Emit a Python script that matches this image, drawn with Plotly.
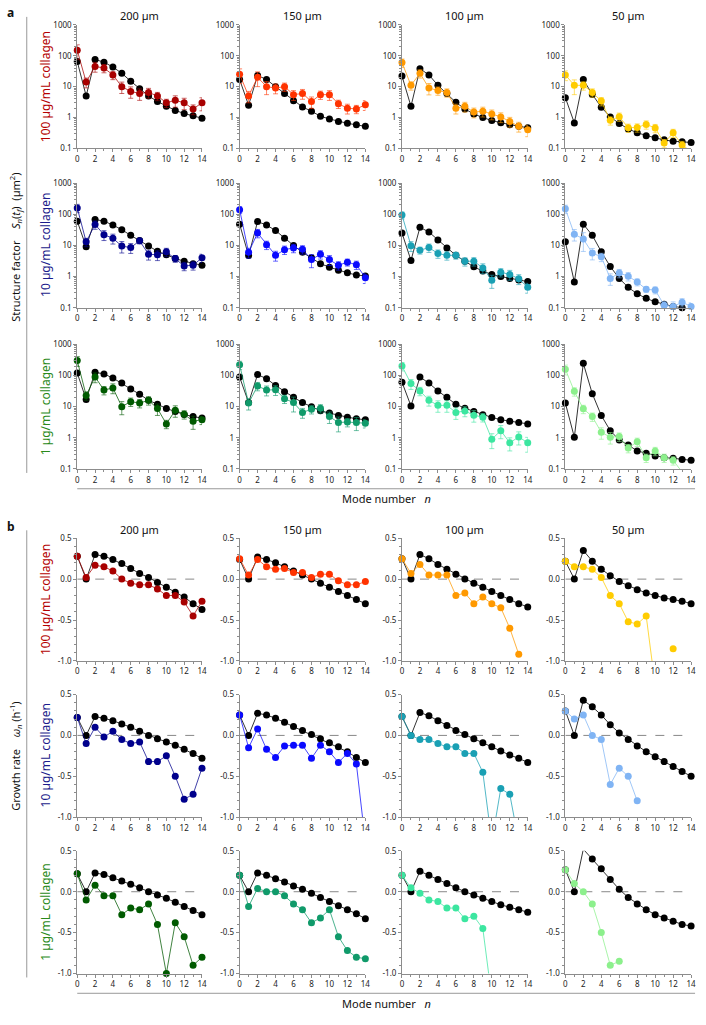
import plotly.graph_objects as go

W, H = 706, 1025
FONT = "Noto Sans"

MODES = list(range(15))
SIZES = ["200 µm", "150 µm", "100 µm", "50 µm"]
CONCS = ["100 µg/mL collagen", "10 µg/mL collagen", "1 µg/mL collagen"]
CONC_COLORS = ["#b40000", "#1c1c8c", "#2a8a1a"]
SERIES_COLORS = [
    ["#a80000", "#ff3300", "#ff9900", "#ffcc00"],
    ["#00008c", "#0a0aff", "#1aa0b4", "#80b4f4"],
    ["#005a00", "#109a6a", "#3ce6a0", "#8cf08c"],
]

# ---- panel a: structure factor S_n(t_f), per concentration, 4 sizes each ----
SF_MODEL_100 = [
    [65, 5, 75, 62, 43, 27, 15, 8.5, 5, 3.3, 2.3, 1.7, 1.35, 1.15, 0.95],
    [17, 2.5, 23, 17, 10, 6, 3.5, 2.2, 1.6, 1.1, 0.9, 0.75, 0.65, 0.58, 0.52],
    [22, 2.3, 38, 24, 11, 6, 3.1, 1.9, 1.3, 1.0, 0.8, 0.68, 0.58, 0.52, 0.47],
    [4.4, 0.67, 17, 5.6, 2.15, 1.05, 0.64, 0.43, 0.32, 0.26, 0.22, 0.19, 0.17, 0.165, 0.155],
]
SF_EXP_100 = [
    [150, 14, 45, 40, 24, 10, 7, 6, 6.5, 5, 3, 3.6, 3, 1.9, 3],
    [25, 5, 20, 10, 9, 10, 5.5, 6, 3.3, 5.5, 5.5, 2.8, 2, 1.9, 2.6],
    [60, 11, 27, 9, 7.5, 6.5, 2, 2.3, 1.5, 1.6, 1.3, 1.05, 0.75, 0.52, 0.4],
    [24, 11, 11, 6.5, 3.4, 0.81, 1.07, 0.47, 0.48, 0.6, 0.46, 0.15, 0.32, 0.13, 0.08],
]
SF_ERR_100 = [
    [0.5, 0.35, 0.35, 0.3, 0.3, 0.4, 0.4, 0.4, 0.35, 0.3, 0.3, 0.4, 0.4, 0.35, 0.45],
    [0.5, 0.4, 0.5, 0.45, 0.35, 0.3, 0.35, 0.35, 0.4, 0.3, 0.35, 0.3, 0.35, 0.3, 0.35],
    [0.3, 0.3, 0.3, 0.4, 0.3, 0.3, 0.35, 0.35, 0.35, 0.35, 0.35, 0.35, 0.35, 0.35, 0.4],
    [0.35, 0.5, 0.3, 0.3, 0.3, 0.3, 0.3, 0.3, 0.3, 0.3, 0.3, 0.3, 0.3, 0.3, 0.0],
]
SF_MODEL_10 = [
    [60, 9, 68, 60, 45, 32, 21, 14.5, 9.5, 6.5, 5, 3.8, 3.1, 2.6, 2.3],
    [48, 4.7, 58, 45, 30, 17, 10, 6, 4, 2.6, 2, 1.6, 1.32, 1.12, 1.05],
    [25, 3.3, 38, 27, 15, 8.2, 4.8, 3.1, 2.05, 1.5, 1.17, 1.0, 0.87, 0.78, 0.69],
    [13, 0.67, 48, 21, 6.3, 2.1, 0.87, 0.45, 0.28, 0.2, 0.155, 0.13, 0.11, 0.1, 0.09],
]
SF_EXP_10 = [
    [160, 13, 47, 22, 17, 9.5, 8.5, 14, 5.2, 5, 6.2, 3.8, 2.2, 2.3, 4],
    [140, 6, 25, 10.5, 4.8, 7.3, 8.3, 7.5, 3.5, 5.2, 3.5, 2.3, 2.9, 2.4, 0.92],
    [94, 9.8, 7, 8.5, 5.5, 4.8, 4.8, 3.1, 3.1, 1.9, 0.76, 1.38, 1.17, 0.85, 0.45],
    [150, 23, 16, 5.7, 4.3, 0.87, 1.3, 1.03, 0.67, 0.39, 0.37, 0.12, 0.11, 0.15, 0.11],
]
SF_ERR_10 = [
    [0.3, 0.3, 0.3, 0.35, 0.35, 0.4, 0.35, 0.2, 0.35, 0.35, 0.3, 0.25, 0.3, 0.3, 0.3],
    [0.25, 0.35, 0.3, 0.3, 0.35, 0.3, 0.3, 0.3, 0.45, 0.3, 0.35, 0.3, 0.25, 0.3, 0.35],
    [0.25, 0.35, 0.25, 0.3, 0.3, 0.3, 0.25, 0.3, 0.3, 0.35, 0.45, 0.3, 0.35, 0.35, 0.35],
    [0.3, 0.4, 0.6, 0.4, 0.3, 0.4, 0.3, 0.3, 0.25, 0.2, 0.25, 0.3, 0.4, 0.3, 0.3],
]
SF_MODEL_1 = [
    [120, 17, 127, 112, 83, 57, 37, 25, 16, 12, 8.7, 7, 5.6, 4.8, 4.3],
    [89, 13.5, 107, 79, 48, 30, 20, 13.5, 10, 7.4, 6.2, 5.2, 4.6, 4.1, 3.8],
    [61, 10.5, 89, 57, 32, 20, 12, 8.9, 7, 5.5, 4.5, 3.8, 3.4, 3.1, 2.8],
    [13, 1.05, 245, 26, 5.2, 1.7, 0.85, 0.59, 0.38, 0.32, 0.26, 0.23, 0.22, 0.2, 0.19],
]
SF_EXP_1 = [
    [300, 23, 90, 34, 40, 10, 14.5, 13, 16, 8.7, 2.8, 7.6, 5.7, 3.4, 3.8],
    [220, 13, 46, 34, 35, 18, 13.5, 6.5, 8.3, 8.9, 4.8, 3.1, 3.2, 3.1, 2.95],
    [200, 55, 32, 16, 11, 11, 6.5, 7.3, 5.3, 4.6, 0.9, 1.7, 0.69, 1.07, 0.69],
    [160, 31, 8.5, 4.8, 1.5, 1.05, 1.1, 0.47, 0.75, 0.23, 0.38, 0.23, 0.19, 0.08, None],
]
SF_ERR_1 = [
    [0.35, 0.3, 0.35, 0.3, 0.35, 0.45, 0.3, 0.3, 0.3, 0.4, 0.3, 0.4, 0.3, 0.45, 0.3],
    [0.3, 0.4, 0.3, 0.35, 0.35, 0.3, 0.5, 0.35, 0.3, 0.3, 0.4, 0.5, 0.3, 0.45, 0.3],
    [0.3, 0.35, 0.3, 0.35, 0.4, 0.4, 0.4, 0.35, 0.4, 0.3, 0.5, 0.45, 0.45, 0.45, 0.5],
    [0.35, 0.3, 0.3, 0.3, 0.4, 0.4, 0.3, 0.3, 0.3, 0.3, 0.3, 0.3, 0.3, 0.3, 0.0],
]

# ---- panel b: growth rate omega_n (1/h) ----
GR_MODEL_100 = [
    [0.28, 0.0, 0.3, 0.28, 0.24, 0.19, 0.13, 0.07, 0.02, -0.04, -0.1, -0.16, -0.22, -0.3, -0.37],
    [0.24, 0.0, 0.27, 0.24, 0.2, 0.15, 0.1, 0.05, 0.0, -0.05, -0.1, -0.15, -0.2, -0.25, -0.3],
    [0.25, 0.0, 0.3, 0.25, 0.18, 0.12, 0.06, 0.0, -0.05, -0.1, -0.15, -0.2, -0.25, -0.3, -0.34],
    [0.22, 0.0, 0.35, 0.22, 0.12, 0.04, -0.03, -0.08, -0.13, -0.17, -0.2, -0.23, -0.25, -0.27, -0.3],
]
GR_EXP_100 = [
    [0.28, 0.02, 0.17, 0.15, 0.1, 0.0, -0.05, -0.07, -0.07, -0.12, -0.2, -0.2, -0.28, -0.45, -0.27],
    [0.25, 0.05, 0.24, 0.15, 0.12, 0.13, 0.08, 0.08, 0.02, 0.06, 0.06, -0.02, -0.07, -0.07, -0.03],
    [0.25, 0.07, 0.18, 0.05, 0.05, 0.05, -0.2, -0.17, -0.3, -0.22, -0.3, -0.35, -0.6, -0.92, None],
    [0.22, 0.15, 0.15, 0.12, 0.02, -0.2, -0.3, -0.52, -0.55, -0.45, -1.3, None, -0.85, None, None],
]
GR_MODEL_10 = [
    [0.22, 0.0, 0.23, 0.21, 0.18, 0.14, 0.1, 0.05, 0.0, -0.04, -0.08, -0.12, -0.17, -0.22, -0.28],
    [0.25, 0.0, 0.27, 0.25, 0.21, 0.16, 0.11, 0.06, 0.01, -0.04, -0.09, -0.14, -0.2, -0.27, -0.33],
    [0.23, 0.0, 0.28, 0.24, 0.18, 0.12, 0.06, 0.01, -0.04, -0.09, -0.14, -0.19, -0.24, -0.28, -0.33],
    [0.3, 0.0, 0.43, 0.35, 0.25, 0.13, 0.03, -0.05, -0.13, -0.2, -0.26, -0.32, -0.38, -0.44, -0.5],
]
GR_EXP_10 = [
    [0.22, -0.1, 0.1, -0.02, 0.05, -0.05, -0.1, -0.08, -0.32, -0.32, -0.25, -0.5, -0.78, -0.72, -0.4],
    [0.25, -0.15, 0.08, -0.17, -0.27, -0.13, -0.12, -0.12, -0.28, -0.12, -0.2, -0.33, -0.22, -0.35, -1.3],
    [0.23, 0.0, -0.05, -0.05, -0.1, -0.14, -0.14, -0.22, -0.22, -0.45, -1.3, -0.65, -0.72, -1.3, None],
    [0.3, 0.2, 0.25, 0.0, -0.05, -0.6, -0.4, -0.5, -0.8, None, None, None, None, None, None],
]
GR_MODEL_1 = [
    [0.22, 0.0, 0.23, 0.21, 0.17, 0.13, 0.09, 0.05, 0.0, -0.04, -0.08, -0.13, -0.18, -0.23, -0.28],
    [0.2, 0.0, 0.23, 0.2, 0.16, 0.12, 0.07, 0.03, -0.02, -0.07, -0.12, -0.17, -0.22, -0.27, -0.33],
    [0.2, 0.0, 0.25, 0.2, 0.15, 0.1, 0.05, 0.0, -0.04, -0.08, -0.12, -0.16, -0.19, -0.22, -0.25],
    [0.27, 0.0, 0.52, 0.4, 0.28, 0.15, 0.03, -0.07, -0.15, -0.22, -0.28, -0.32, -0.36, -0.4, -0.42],
]
GR_EXP_1 = [
    [0.22, -0.1, 0.08, -0.05, -0.05, -0.28, -0.2, -0.22, -0.15, -0.4, -1.0, -0.38, -0.55, -0.9, -0.8],
    [0.2, -0.18, 0.04, 0.0, 0.0, -0.05, -0.15, -0.22, -0.38, -0.32, -0.22, -0.55, -0.72, -0.8, -0.82],
    [0.2, 0.05, -0.02, -0.1, -0.12, -0.2, -0.2, -0.33, -0.3, -0.45, -1.3, None, None, None, None],
    [0.27, 0.1, 0.0, -0.15, -0.5, -0.9, -0.85, None, None, None, None, None, None, None, None],
]

SF_MODEL = [SF_MODEL_100, SF_MODEL_10, SF_MODEL_1]
SF_EXP = [SF_EXP_100, SF_EXP_10, SF_EXP_1]
SF_ERR = [SF_ERR_100, SF_ERR_10, SF_ERR_1]
GR_MODEL = [GR_MODEL_100, GR_MODEL_10, GR_MODEL_1]
GR_EXP = [GR_EXP_100, GR_EXP_10, GR_EXP_1]

# ---- geometry (page pixels) ----
COL_X = [(76, 202), (240, 367), (404, 531), (569, 696)]
ROWS_A = [(19, 144), (179, 305), (342, 468)]
ROWS_B = [(538, 662), (696, 820), (854, 978)]

AXIS_GREY = "#8c8c8c"


def px_x(x):
    return x / W


def px_y(y):
    return 1 - y / H


def rgba(hex_color, alpha):
    h = hex_color.lstrip("#")
    r, g, b = (int(h[i:i + 2], 16) for i in (0, 2, 4))
    return f"rgba({r},{g},{b},{alpha})"


fig = go.Figure()
axis_id = 0
LOG_MINOR = [k * 10 ** d for d in range(-1, 3) for k in range(2, 10)]


def add_panel(rows_px, log_panel):
    global axis_id
    for r in range(3):
        for c in range(4):
            axis_id += 1
            sfx = "" if axis_id == 1 else str(axis_id)
            xa, ya = f"x{sfx}", f"y{sfx}"
            x0, x1 = COL_X[c]
            y0, y1 = rows_px[r]
            common = dict(
                showline=True, linecolor=AXIS_GREY, linewidth=1, ticks="outside",
                ticklen=3, tickcolor=AXIS_GREY, showgrid=False, zeroline=False,
                tickfont=dict(family=FONT, size=8, color="#222"),
                ticklabeloverflow="allow",
            )
            fig.layout[f"xaxis{sfx}"] = dict(
                domain=[px_x(x0), px_x(x1)], anchor=ya, range=[0, 14],
                tickvals=list(range(0, 15, 2)),
                minor=dict(ticks="outside", ticklen=2, dtick=1, tickcolor=AXIS_GREY),
                **common,
            )
            if log_panel:
                fig.layout[f"yaxis{sfx}"] = dict(
                    domain=[px_y(y1), px_y(y0)], anchor=xa, type="log", range=[-1, 3],
                    tickvals=[0.1, 1, 10, 100, 1000],
                    ticktext=["0.1", "1", "10", "100", "1000"],
                    minor=dict(ticks="outside", ticklen=2, tickvals=LOG_MINOR,
                               tickcolor=AXIS_GREY),
                    **common,
                )
                model, exp, err = SF_MODEL[r][c], SF_EXP[r][c], SF_ERR[r][c]
                lo, hi = 0.1, 1000
            else:
                fig.layout[f"yaxis{sfx}"] = dict(
                    domain=[px_y(y1), px_y(y0)], anchor=xa, range=[-1, 0.5],
                    tickvals=[-1, -0.5, 0, 0.5],
                    ticktext=["-1.0", "-0.5", "0.0", "0.5"],
                    minor=dict(ticks="outside", ticklen=2, dtick=0.1,
                               tickcolor=AXIS_GREY),
                    **common,
                )
                model, exp, err = GR_MODEL[r][c], GR_EXP[r][c], None
                lo, hi = -1.0, 0.5
                fig.add_shape(type="line", xref=xa, yref=ya, x0=0, x1=14, y0=0, y1=0,
                              line=dict(color="#888", width=1, dash="dash"), layer="below")

            col = SERIES_COLORS[r][c]
            for vals, line_col, mk_col, e in (
                (model, "#333333", "#000000", None),
                (exp, rgba(col, 0.75), col, err),
            ):
                fig.add_trace(go.Scatter(
                    x=MODES, y=vals, mode="lines", xaxis=xa, yaxis=ya,
                    line=dict(color=line_col, width=1), connectgaps=False,
                    hoverinfo="skip", showlegend=False,
                ))
                keep = [i for i, v in enumerate(vals) if v is not None and lo <= v <= hi]
                ex = None
                if e is not None:
                    ex = dict(type="data", symmetric=False,
                              array=[vals[i] * e[i] for i in keep],
                              arrayminus=[vals[i] * e[i] for i in keep],
                              color=rgba(col, 0.6), thickness=1, width=2.5)
                fig.add_trace(go.Scatter(
                    x=[MODES[i] for i in keep], y=[vals[i] for i in keep],
                    mode="markers", xaxis=xa, yaxis=ya, cliponaxis=False,
                    marker=dict(color=mk_col, size=7, line=dict(width=0)),
                    error_y=ex, showlegend=False,
                ))


add_panel(ROWS_A, True)
add_panel(ROWS_B, False)

ann = []
shapes = []


def txt(x, y, text, size, color="#111", angle=0, bold=False, xanchor="center", yanchor="middle"):
    ann.append(dict(
        x=px_x(x), y=px_y(y), xref="paper", yref="paper", text=f"<b>{text}</b>" if bold else text,
        showarrow=False, textangle=angle, xanchor=xanchor, yanchor=yanchor,
        font=dict(family=FONT, size=size, color=color),
    ))


for rows_px, label, ytitle in (
    (ROWS_A, "a", "Structure factor    <i>S<sub>n</sub></i>(<i>t<sub>f</sub></i>)  (µm<sup>2</sup>)"),
    (ROWS_B, "b", "Growth rate    <i>ω<sub>n</sub></i> (h<sup>-1</sup>)"),
):
    top, bottom = rows_px[0][0], rows_px[2][1]
    txt(3, top - 12, label, 12, bold=True, xanchor="left")
    for c, s in enumerate(SIZES):
        txt((COL_X[c][0] + COL_X[c][1]) / 2, top - 9, s, 11)
    for r, cname in enumerate(CONCS):
        txt(44, (rows_px[r][0] + rows_px[r][1]) / 2, cname, 12, color=CONC_COLORS[r], angle=-90)
    txt(14, (top + bottom) / 2, ytitle, 11, angle=-90)
    shapes.append(dict(type="line", xref="paper", yref="paper", x0=px_x(25), x1=px_x(25),
                       y0=px_y(top - 8), y1=px_y(bottom + 4), line=dict(color="#999", width=1)))
    shapes.append(dict(type="line", xref="paper", yref="paper", x0=px_x(76), x1=px_x(700),
                       y0=px_y(bottom + 20), y1=px_y(bottom + 20), line=dict(color="#999", width=1)))
    txt(388, bottom + 30, "Mode number   <i>n</i>", 11)

fig.update_layout(
    width=W, height=H, margin=dict(l=0, r=0, t=0, b=0),
    paper_bgcolor="white", plot_bgcolor="white",
    annotations=ann, shapes=list(fig.layout.shapes) + shapes,
    showlegend=False,
)

# the page body has a default margin; drop it so page pixels match figure pixels
fig.write_html("out.html", config={"displayModeBar": False},
               post_script="document.body.style.margin='0px';")
